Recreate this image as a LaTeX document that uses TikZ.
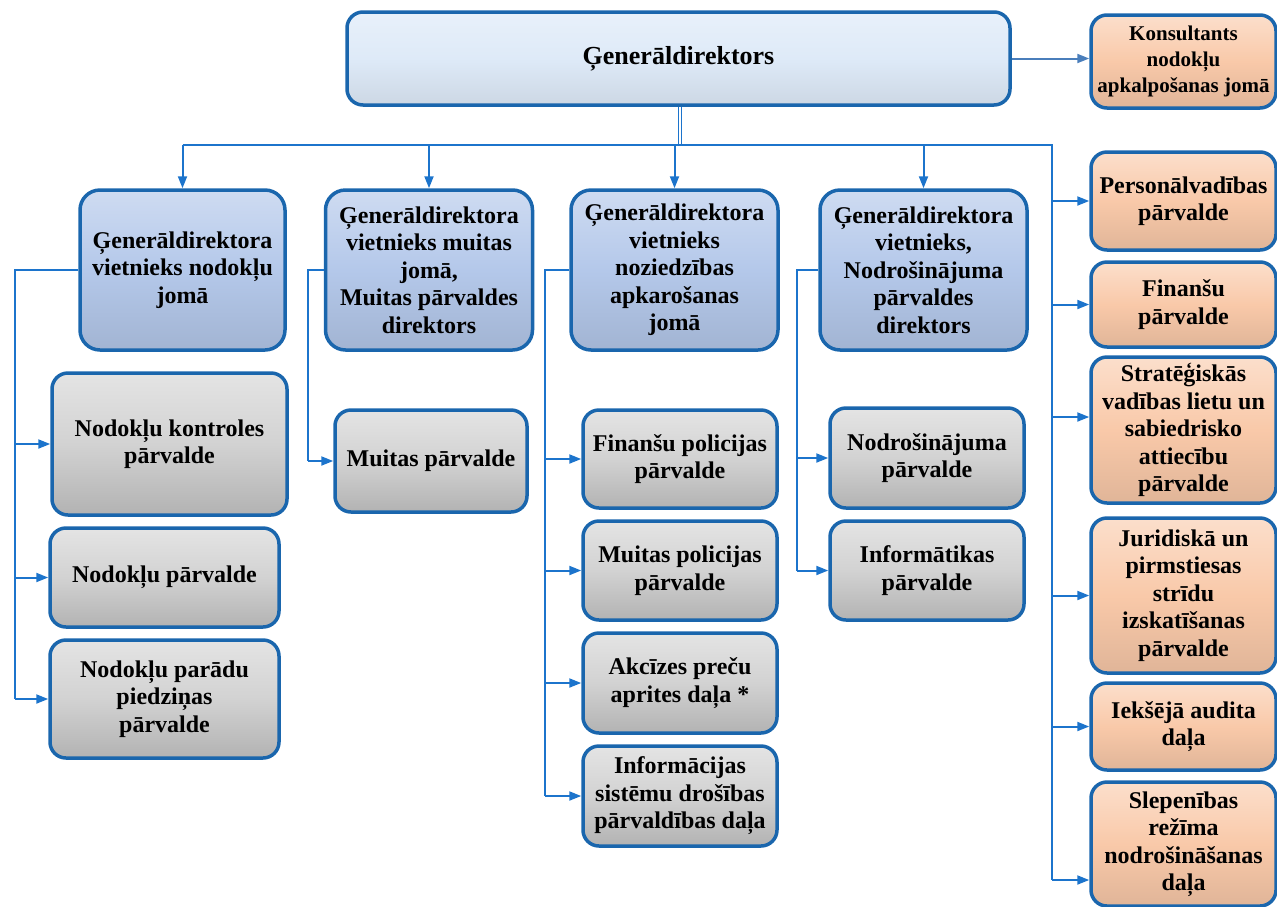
\documentclass[tikz,border=0pt]{standalone}
\usepackage{fontspec}
\setmainfont{Liberation Serif}
\usetikzlibrary{arrows.meta}
\definecolor{topfill}{HTML}{DEEAF8}
\definecolor{depfill}{HTML}{B4C8EA}
\definecolor{grayfill}{HTML}{D2D2D2}
\definecolor{peachfill}{HTML}{F9C9A9}
\definecolor{boxline}{HTML}{1A66AD}
\definecolor{conn}{HTML}{1C74CC}
\definecolor{connb}{HTML}{4A7EBB}
\tikzset{
  x=1pt,y=-1pt,
  base/.style={draw=boxline, line width=3.5pt, rounded corners=16pt, align=center,
    font=\fontsize{24}{27.5}\selectfont\bfseries, inner sep=1pt},
  topbox/.style={base, top color=topfill!70!white, bottom color=topfill!92!black, middle color=topfill,
    font=\fontsize{26}{30}\selectfont\bfseries},
  depbox/.style={base, rounded corners=20pt, top color=depfill!65!white, bottom color=depfill!90!black, middle color=depfill},
  graybox/.style={base, top color=grayfill!60!white, bottom color=grayfill!85!black, middle color=grayfill},
  peachbox/.style={base, top color=peachfill!60!white, bottom color=peachfill!90!black, middle color=peachfill},
  wire/.style={draw=conn, line width=2pt},
  arr/.style={wire, -{Triangle[length=12pt,width=9pt]}},
}
\newcommand{\bx}[6]{\node[#1, minimum width=#4pt, minimum height=#5pt] (#2) at (#3) {#6};}
\begin{document}
\begin{tikzpicture}
\useasboundingbox (0,0) rectangle (1277,906);
% top
\bx{topbox}{g}{678.5,58.5}{663}{93}{Ģenerāldirektors}
\bx{peachbox,font=\fontsize{21}{26}\selectfont\bfseries}{k}{1183.5,61.5}{185}{93}{Konsultants\\nodokļu\\apkalpošanas jomā}
% deputies
\bx{depbox}{d1}{182.5,270}{205}{160}{Ģenerāldirektora\\vietnieks nodokļu\\jomā}
\bx{depbox}{d2}{429,270}{207}{160}{Ģenerāldirektora\\vietnieks muitas\\jomā,\\Muitas pārvaldes\\direktors}
\bx{depbox}{d3}{674.5,270}{207}{160}{Ģenerāldirektora\\vietnieks\\noziedzības\\apkarošanas\\jomā}
\bx{depbox}{d4}{923.5,270}{207}{160}{Ģenerāldirektora\\vietnieks,\\Nodrošinājuma\\pārvaldes\\direktors}
% column 1
\bx{graybox}{n1}{169.5,444}{235}{142}{Nodokļu kontroles\\pārvalde}
\bx{graybox}{n2}{164.5,577.5}{229}{99}{Nodokļu pārvalde}
\bx{graybox}{n3}{164.5,699}{229}{118}{Nodokļu parādu\\piedziņas\\pārvalde}
% column 2
\bx{graybox}{m1}{431,461}{192}{102}{Muitas pārvalde}
% column 3
\bx{graybox}{f1}{680,459}{194}{98}{Finanšu policijas\\pārvalde}
\bx{graybox}{f2}{680,570.5}{194}{99}{Muitas policijas\\pārvalde}
\bx{graybox}{f3}{680,683}{194}{100}{Akcīzes preču\\aprites daļa *}
\bx{graybox}{f4}{680,796}{194}{100}{Informācijas\\sistēmu drošības\\pārvaldības daļa}
% column 4
\bx{graybox}{s1}{927,458}{194}{100}{Nodrošinājuma\\pārvalde}
\bx{graybox}{s2}{927,570.5}{194}{99}{Informātikas\\pārvalde}
% right column
\bx{peachbox}{p1}{1183.5,201}{185}{98}{Personālvadības\\pārvalde}
\bx{peachbox}{p2}{1183.5,304.5}{185}{85}{Finanšu\\pārvalde}
\bx{peachbox}{p3}{1183.5,430}{185}{146}{Stratēģiskās\\vadības lietu un\\sabiedrisko\\attiecību\\pārvalde}
\bx{peachbox}{p4}{1183.5,595.5}{185}{155}{Juridiskā un\\pirmstiesas\\strīdu\\izskatīšanas\\pārvalde}
\bx{peachbox}{p5}{1183.5,726.5}{185}{87}{Iekšējā audita\\daļa}
\bx{peachbox}{p6}{1183.5,844}{185}{124}{Slepenības\\režīma\\nodrošināšanas\\daļa}
% connectors
\coordinate (bus) at (680,145);
\coordinate (rbus) at (1052,145);
\coordinate (c1) at (15,0);
\coordinate (c2) at (308,0);
\coordinate (c3) at (545,0);
\coordinate (c4) at (797,0);
\draw[draw=connb, line width=2pt, -{Triangle[length=12pt,width=9pt]}] (g.east) -- (g.east -| k.west);
\draw[wire, double=white, double distance=1.5pt, line width=1.2pt] (g.south -| bus) -- (bus);
\draw[wire] (d1.north |- bus) -- (rbus) -- ([yshift=-36pt]p6.west -| rbus);
\foreach \d in {d1,d2,d3,d4} \draw[arr] (\d.north |- bus) -- (\d.north);
\foreach \p in {p1,p2,p4,p5} \draw[arr] (\p.west -| rbus) -- (\p.west);
\draw[arr] ([yshift=13pt]p3.west -| rbus) -- ([yshift=13pt]p3.west);
\draw[arr] ([yshift=-36pt]p6.west -| rbus) -- ([yshift=-36pt]p6.west);
% column feeders
\draw[wire] (d1.west) -- (d1.west -| c1) -- (n3.west -| c1);
\foreach \n in {n1,n2,n3} \draw[arr] (\n.west -| c1) -- (\n.west);
\draw[wire] (d2.west) -- (d2.west -| c2) -- (m1.west -| c2);
\draw[arr] (m1.west -| c2) -- (m1.west);
\draw[wire] (d3.west) -- (d3.west -| c3) -- (f4.west -| c3);
\foreach \n in {f1,f2,f3,f4} \draw[arr] (\n.west -| c3) -- (\n.west);
\draw[wire] (d4.west) -- (d4.west -| c4) -- (s2.west -| c4);
\foreach \n in {s1,s2} \draw[arr] (\n.west -| c4) -- (\n.west);
\end{tikzpicture}
\end{document}
